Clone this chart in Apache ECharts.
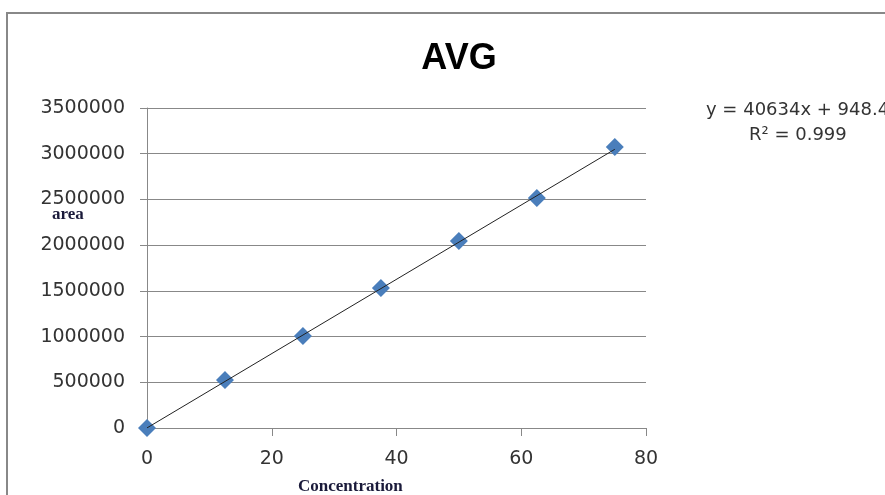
<!DOCTYPE html>
<html><head><meta charset="utf-8">
<script src="https://cdn.jsdelivr.net/npm/echarts@6/dist/echarts.min.js"></script>
<style>html,body{margin:0;padding:0;background:#fff}#c{width:885px;height:495px}</style>
</head><body><div id="c"></div>
<script>
const concentration = [0, 12.5, 25, 37.5, 50, 62.5, 75];
const area = [0, 525000, 1006000, 1531000, 2045000, 2515000, 3073000];
const trendSlope = 40634;
const trendIntercept = 948.4;
const xTicks = [0, 20, 40, 60, 80];
const yTicks = [0, 500000, 1000000, 1500000, 2000000, 2500000, 3000000, 3500000];

const points = concentration.map((x, i) => [x, area[i]]);
const xMinData = concentration[0], xMaxData = concentration[concentration.length - 1];
const trend = [[xMinData, trendSlope * xMinData + trendIntercept], [xMaxData, trendSlope * xMaxData + trendIntercept]];

const chart = echarts.init(document.getElementById('c'));
const labelFont = { fontFamily: 'DejaVu Sans', fontSize: 19, color: '#333' };
chart.setOption({
  animation: false,
  backgroundColor: '#fff',
  title: {
    text: 'AVG', left: 454, top: 36, textAlign: 'center',
    textStyle: { fontFamily: 'Liberation Sans, Arial', fontWeight: 'bold', fontSize: 36, color: '#000' }
  },
  grid: { left: 147, right: 239, top: 108, bottom: 67 },
  xAxis: {
    type: 'value', min: xTicks[0], max: xTicks[xTicks.length - 1], interval: xTicks[1] - xTicks[0],
    axisLine: { lineStyle: { color: '#888', width: 1 } },
    axisTick: { show: true, length: 8, inside: false, lineStyle: { color: '#888' } },
    splitLine: { show: false },
    axisLabel: Object.assign({ margin: 22 }, labelFont)
  },
  yAxis: {
    type: 'value', min: yTicks[0], max: yTicks[yTicks.length - 1], interval: yTicks[1] - yTicks[0],
    axisLine: { show: true, lineStyle: { color: '#888', width: 1 } },
    axisTick: { show: true, length: 7, inside: false, lineStyle: { color: '#888' } },
    splitLine: { show: true, lineStyle: { color: '#888', width: 1 } },
    axisLabel: Object.assign({ margin: 22, formatter: v => String(v) }, labelFont)
  },
  series: [
    {
      type: 'line', data: trend, symbol: 'none', silent: true, z: 3,
      lineStyle: { color: '#222', width: 1 }
    },
    {
      type: 'scatter', data: points, symbol: 'diamond', symbolSize: [18, 18], z: 2,
      itemStyle: { color: '#4a7ebb', opacity: 1 }
    }
  ],
  graphic: [
    { type: 'rect', shape: { x: 7, y: 13, width: 900, height: 520 }, style: { fill: 'none', stroke: '#888', lineWidth: 2 }, z: -1 },
    { type: 'text', left: 52, top: 206, style: { text: 'area', font: 'bold 17px "Liberation Serif", serif', fill: '#1a1a3a' } },
    { type: 'text', left: 298, top: 478, style: { text: 'Concentration', font: 'bold 17px "Liberation Serif", serif', fill: '#1a1a3a' } },
    { type: 'text', left: 706, top: 101, style: { text: 'y = 40634x + 948.4', font: '18px "DejaVu Sans"', fill: '#333' } },
    { type: 'text', left: 749, top: 126, style: { text: 'R² = 0.999', font: '18px "DejaVu Sans"', fill: '#333' } }
  ]
});
</script></body></html>
